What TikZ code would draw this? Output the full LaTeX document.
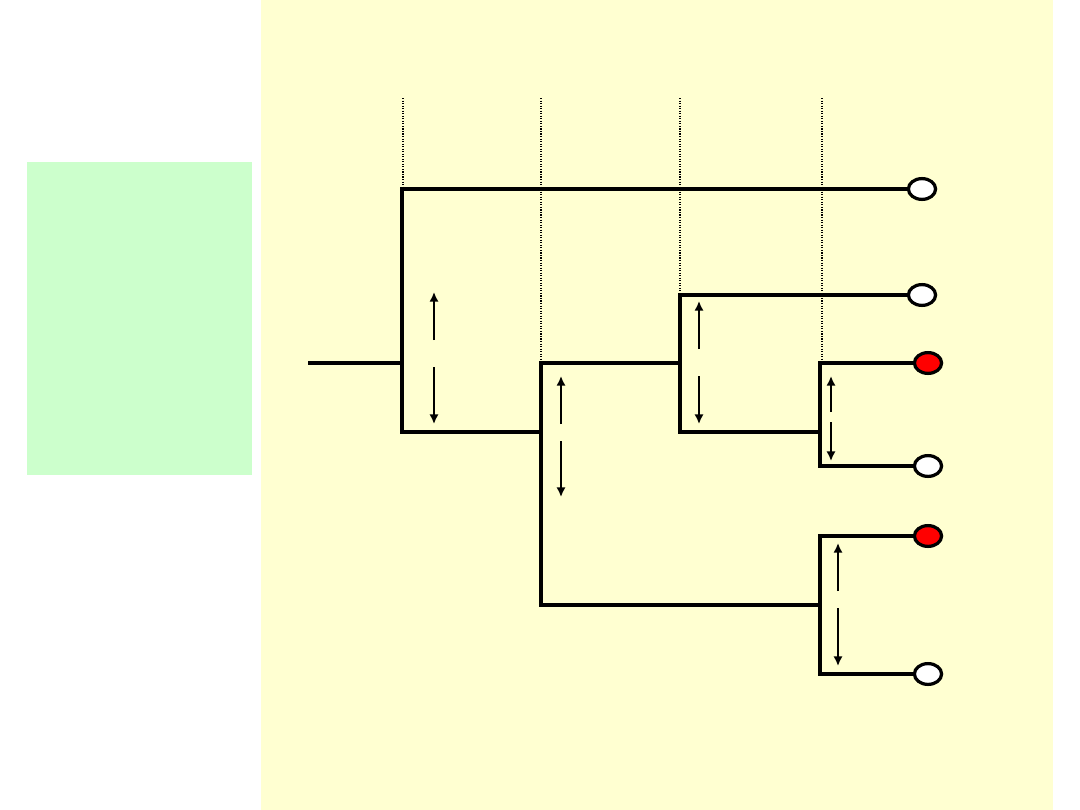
\documentclass[tikz,border=0pt]{standalone}
\usepackage{tikz}
\usetikzlibrary{arrows.meta, positioning, shapes.geometric}
\definecolor{panelyellow}{HTML}{FFFFD1}
\definecolor{panelgreen}{HTML}{CCFFCC}
\definecolor{leafred}{HTML}{FF0000}

\begin{document}
\begin{tikzpicture}[
  x=0.025cm, y=-0.025cm,
  branch/.style={line width=2.6pt, black},
  leaf/.style={ellipse, draw=black, line width=2.3pt, fill=white, minimum width=0.68cm, minimum height=0.52cm, inner sep=0pt},
  leafhit/.style={leaf, fill=leafred},
  guide/.style={densely dotted, line width=0.8pt, black},
  span/.style={-{Latex[length=2.4mm, width=2.3mm]}, line width=1.5pt, black}
]
\useasboundingbox (0,0) rectangle (1080,810);

%  : -- Panels  : --
\fill[panelyellow] (261,0) rectangle (1053,810);
\fill[panelgreen] (27,162) rectangle (252,475);

%  : -- Time guides  : --
\foreach \x/\y in {403/189, 541/363, 680/295, 822/363} {
  \draw[guide] (\x,98) -- (\x,\y);
}

%  : -- Leaves  : --
\node[leaf] (l1) at (922,189) {};
\node[leaf] (l2) at (922,295) {};
\node[leafhit] (l3) at (928,363) {};
\node[leaf] (l4) at (928,466) {};
\node[leafhit] (l5) at (928,536) {};
\node[leaf] (l6) at (928,674) {};

%  : -- Junctions  : --
\coordinate (root) at (308,363);
\coordinate (a) at (402,363);
\coordinate (at) at (402,189);
\coordinate (ab) at (402,432);
\coordinate (b) at (541,432);
\coordinate (bt) at (541,363);
\coordinate (bb) at (541,605);
\coordinate (c) at (680,363);
\coordinate (ct) at (680,295);
\coordinate (cb) at (680,432);
\coordinate (d) at (820,432);
\coordinate (dt) at (820,363);
\coordinate (db) at (820,466);
\coordinate (e) at (820,605);
\coordinate (et) at (820,536);
\coordinate (eb) at (820,674);

%  : -- Tree  : --
\draw[branch] (root) -- (a);
\draw[branch] (l1.west) -- (at) -- (ab) -- (b);
\draw[branch] (c) -- (bt) -- (bb) -- (e);
\draw[branch] (l2.west) -- (ct) -- (cb) -- (d);
\draw[branch] (l3.west) -- (dt) -- (db) -- (l4.west);
\draw[branch] (l5.west) -- (et) -- (eb) -- (l6.west);

%  : -- Branch spans (split double arrows)  : --
\foreach \x/\t/\g/\h/\b in {434/292/340/367/424, 561/376/424/441/497, 699/301/349/376/424, 831/376/412/422/461, 838/543/591/608/666} {
  \coordinate (s1) at (\x,\g);
  \coordinate (s2) at (\x,\t);
  \coordinate (s3) at (\x,\h);
  \coordinate (s4) at (\x,\b);
  \draw[span] (s1) -- (s2);
  \draw[span] (s3) -- (s4);
}

\end{tikzpicture}
\end{document}
